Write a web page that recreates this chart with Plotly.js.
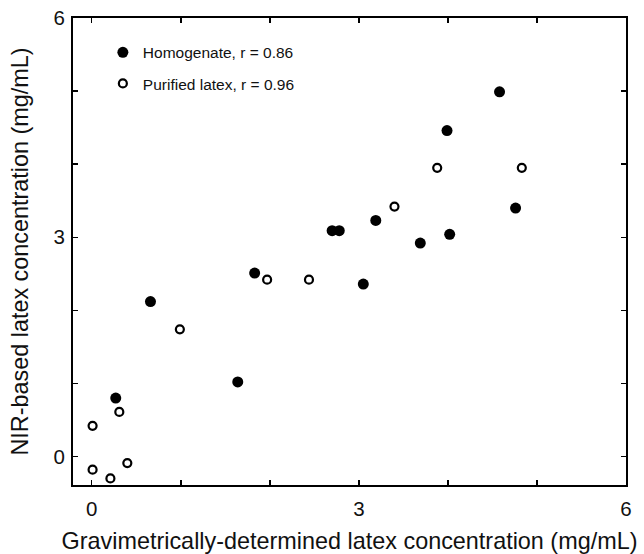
<!DOCTYPE html>
<html>
<head>
<meta charset="utf-8">
<script src="https://cdn.plot.ly/plotly-3.0.1.min.js"></script>
<style>html,body{margin:0;padding:0;background:#fff;}#chart{width:644px;height:554px;}</style>
</head>
<body>
<div id="chart"></div>
<script>
// Homogenate (filled circles)
var homX = [0.27, 0.66, 1.64, 1.83, 2.70, 2.78, 3.05, 3.19, 3.69, 3.99, 4.02, 4.58, 4.76];
var homY = [0.80, 2.12, 1.02, 2.51, 3.09, 3.09, 2.36, 3.23, 2.92, 4.46, 3.04, 4.99, 3.40];
// Purified latex (open circles)
var purX = [0.01, 0.01, 0.21, 0.31, 0.40, 0.99, 1.97, 2.44, 3.40, 3.88, 4.83];
var purY = [0.42, -0.18, -0.30, 0.61, -0.09, 1.74, 2.42, 2.42, 3.42, 3.95, 3.95];
var homName = 'Homogenate, r = 0.86';
var purName = 'Purified latex, r = 0.96';
var tickVals = [0, 1, 2, 3, 4, 5, 6];
var tickText = ['0', '', '', '3', '', '', '6'];
var xTitle = 'Gravimetrically-determined latex concentration (mg/mL)';
var yTitle = 'NIR-based latex concentration (mg/mL)';

var FONT = 'Liberation Sans, Arial, sans-serif';
var traces = [
  {x: homX, y: homY, type: 'scatter', mode: 'markers', name: homName, legendgroup: 'a',
   marker: {symbol: 'circle', size: 11, color: '#000'}},
  {x: purX, y: purY, type: 'scatter', mode: 'markers', name: purName, legendgroup: 'b',
   marker: {symbol: 'circle-open', size: 8, color: '#000', line: {width: 2.2, color: '#000'}}}
];
var axisCommon = {
  showgrid: false, zeroline: false, showline: true, linecolor: '#000', linewidth: 2,
  mirror: 'ticks', ticks: 'inside', ticklen: 5, tickwidth: 1.5, tickcolor: '#000',
  tickmode: 'array', tickvals: tickVals, ticktext: tickText,
  tickfont: {family: FONT, size: 20.5, color: '#111'}
};
var layout = {
  width: 644, height: 554,
  margin: {l: 73, r: 18, t: 18, b: 69},
  paper_bgcolor: '#fff', plot_bgcolor: '#fff',
  font: {family: FONT, color: '#111'},
  showlegend: true,
  legend: {x: 0.054, y: 0.962, xanchor: 'left', yanchor: 'top', bgcolor: 'rgba(0,0,0,0)',
           traceorder: 'grouped', tracegroupgap: 8, font: {family: FONT, size: 15.5, color: '#111'}},
  xaxis: Object.assign({}, axisCommon, {range: [-0.21, 6.0], ticklabelstandoff: 4,
    title: {text: xTitle, font: {family: FONT, size: 23.4, color: '#111'}, standoff: 14}}),
  yaxis: Object.assign({}, axisCommon, {range: [-0.39, 6.0], ticklabelstandoff: 2,
    title: {text: yTitle, font: {family: FONT, size: 23.4, color: '#111'}, standoff: 18}})
};
Plotly.newPlot('chart', traces, layout, {displayModeBar: false, staticPlot: true});
</script>
</body>
</html>
